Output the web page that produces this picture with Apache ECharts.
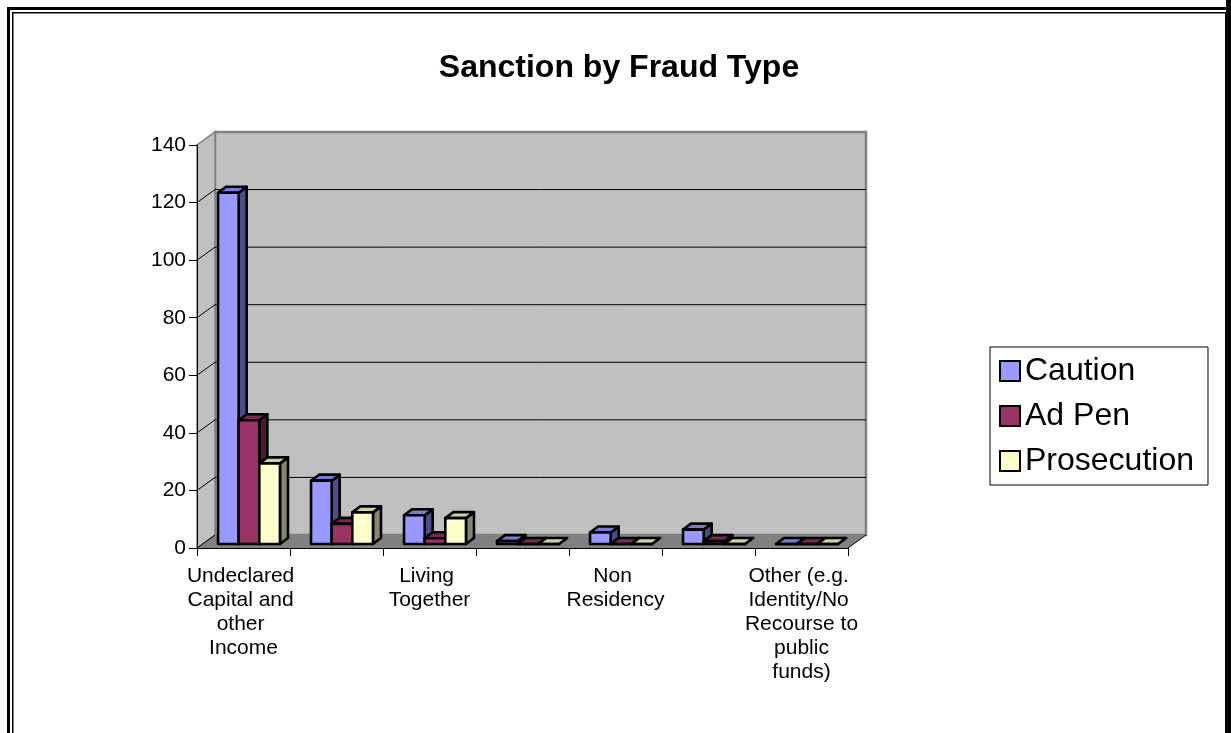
<!DOCTYPE html>
<html>
<head>
<meta charset="utf-8">
<script src="https://cdn.jsdelivr.net/npm/echarts@6/dist/echarts.min.js"></script>
<style>
html,body{margin:0;padding:0;background:#fff;}
#chart{width:1231px;height:733px;}
</style>
</head>
<body>
<div id="chart"></div>
<script>
// ---- data ----
const categories = [
  'Undeclared Capital and other Income',
  '',
  'Living Together',
  '',
  'Non Residency',
  '',
  'Other (e.g. Identity/No Recourse to public funds)'
];
const seriesNames = ['Caution', 'Ad Pen', 'Prosecution'];
const caution = [122, 22, 10, 1, 4, 5, 0];
const adPen = [43, 7, 2, 0, 0, 1, 0];
const prosecution = [28, 11, 9, 0, 0, 0, 0];
const yTicks = [0, 20, 40, 60, 80, 100, 120, 140];

// ---- styles ----
const FONT = "'Liberation Sans', Arial, sans-serif";
const barStyles = [
  { front: '#9999FF', top: '#7B7BD6', side: '#4D4D86' },
  { front: '#993366', top: '#7A2952', side: '#4D1A33' },
  { front: '#FFFFCC', top: '#D0D0A6', side: '#86866B' }
];
const WALL_DX = 18, WALL_DY = -13;   // depth of the 3D box
const BAR_DX = 8, BAR_DY = -6;       // depth of each bar
const BAR_SHIFT_X = 5.5, BAR_SHIFT_Y = -4; // bars sit a bit back from the front plane
const BAR_FRAC = 0.222;

const chart = echarts.init(document.getElementById('chart'));

function backgroundSeries() {
  return {
    type: 'custom',
    name: '__bg',
    z: 1,
    silent: true,
    data: [[0, 0]],
    encode: { x: 0, y: 1 },
    renderItem: function (params, api) {
      const cs = params.coordSys;
      const L = cs.x, T = cs.y, R = cs.x + cs.width, B = cs.y + cs.height;
      const dx = WALL_DX, dy = WALL_DY;
      const children = [];
      // back wall
      children.push({ type: 'rect', shape: { x: L + dx, y: T + dy, width: R - L, height: B - T },
        style: { fill: '#C0C0C0', stroke: '#808080', lineWidth: 2.5 } });
      // left wall
      children.push({ type: 'polygon', shape: { points: [[L, B], [L, T], [L + dx, T + dy], [L + dx, B + dy]] },
        style: { fill: '#C0C0C0', stroke: '#808080', lineWidth: 1.5 } });
      // gridlines
      yTicks.forEach(function (v) {
        if (v === 0 || v === yTicks[yTicks.length - 1]) return;
        const y = api.coord([0, v])[1];
        children.push({ type: 'line', shape: { x1: L + dx, y1: y + dy, x2: R + dx, y2: y + dy },
          style: { stroke: '#000', lineWidth: 1 } });
        children.push({ type: 'line', shape: { x1: L, y1: y, x2: L + dx, y2: y + dy },
          style: { stroke: '#000', lineWidth: 1 } });
      });
      // floor
      children.push({ type: 'polygon', shape: { points: [[L, B], [R, B], [R + dx, B + dy], [L + dx, B + dy]] },
        style: { fill: '#808080' } });
      children.push({ type: 'line', shape: { x1: R, y1: B, x2: R + dx, y2: B + dy },
        style: { stroke: '#000', lineWidth: 1 } });
      children.push({ type: 'line', shape: { x1: L, y1: B, x2: L + dx, y2: B + dy },
        style: { stroke: '#000', lineWidth: 1 } });
      return { type: 'group', children: children };
    }
  };
}

function barSeries(name, values, s) {
  const st = barStyles[s];
  return {
    type: 'custom',
    name: name,
    z: 2,
    data: values.map(function (v, i) { return [i, v]; }),
    encode: { x: 0, y: 1 },
    itemStyle: { color: st.front, borderColor: '#000', borderWidth: 2 },
    renderItem: function (params, api) {
      const i = api.value(0), v = api.value(1);
      const base = api.coord([i, 0]);
      const top = api.coord([i, v]);
      const band = api.size([1, 0])[0];
      const bw = band * BAR_FRAC;
      const x0 = base[0] - 1.5 * bw + s * bw + BAR_SHIFT_X;
      const x1 = x0 + bw;
      const yb = base[1] + BAR_SHIFT_Y;
      const yt = top[1] + BAR_SHIFT_Y;
      const line = { stroke: '#000', lineWidth: 2.6, lineJoin: 'round' };
      return {
        type: 'group',
        children: [
          { type: 'polygon', shape: { points: [[x1, yt], [x1 + BAR_DX, yt + BAR_DY], [x1 + BAR_DX, yb + BAR_DY], [x1, yb]] },
            style: Object.assign({ fill: st.side }, line) },
          { type: 'polygon', shape: { points: [[x0, yt], [x1, yt], [x1 + BAR_DX, yt + BAR_DY], [x0 + BAR_DX, yt + BAR_DY]] },
            style: Object.assign({ fill: st.top }, line) },
          { type: 'rect', shape: { x: x0, y: yt, width: bw, height: yb - yt },
            style: Object.assign({ fill: st.front }, line) }
        ]
      };
    }
  };
}

const option = {
  animation: false,
  backgroundColor: '#fff',
  title: {
    text: 'Sanction by Fraud Type',
    left: 614,
    textAlign: 'center',
    top: 47,
    textStyle: { fontFamily: FONT, fontSize: 32, fontWeight: 'bold', color: '#000' }
  },
  legend: {
    data: seriesNames,
    orient: 'vertical',
    left: 990,
    top: 347,
    padding: [8, 14, 8, 9],
    itemGap: 13,
    itemWidth: 20,
    itemHeight: 20,
    icon: 'rect',
    borderColor: '#000',
    borderWidth: 1,
    backgroundColor: '#fff',
    itemStyle: { borderColor: '#000', borderWidth: 2 },
    textStyle: { fontFamily: FONT, fontSize: 32, lineHeight: 30, color: '#000' }
  },
  grid: { left: 197, top: 145, width: 651, height: 403, containLabel: false },
  xAxis: {
    type: 'category',
    data: categories,
    z: 5,
    axisLine: { show: true, lineStyle: { color: '#000', width: 1 } },
    axisTick: { show: true, interval: 0, length: 8, lineStyle: { color: '#000' } },
    axisLabel: {
      interval: 0,
      margin: 16,
      fontFamily: FONT,
      fontSize: 21,
      lineHeight: 24,
      color: '#000',
      width: 116,
      overflow: 'break',
      align: 'center'
    },
    splitLine: { show: false }
  },
  yAxis: {
    type: 'value',
    min: 0,
    max: 140,
    interval: 20,
    z: 5,
    axisLine: { show: true, lineStyle: { color: '#000', width: 1 } },
    axisTick: { show: true, length: 8, lineStyle: { color: '#000' } },
    axisLabel: { margin: 11, fontFamily: FONT, fontSize: 21, color: '#000' },
    splitLine: { show: false }
  },
  graphic: [
    { type: 'rect', z: 100, shape: { x: 8.5, y: 8.5, width: 1219, height: 800 },
      style: { fill: null, stroke: '#000', lineWidth: 3 } },
    { type: 'rect', z: 100, shape: { x: 12.75, y: 12.75, width: 1213, height: 800 },
      style: { fill: null, stroke: '#000', lineWidth: 1.5 } },
    { type: 'rect', z: 100, shape: { x: 1226, y: 0, width: 5, height: 733 },
      style: { fill: '#000' } }
  ],
  series: [
    backgroundSeries(),
    barSeries(seriesNames[0], caution, 0),
    barSeries(seriesNames[1], adPen, 1),
    barSeries(seriesNames[2], prosecution, 2)
  ]
};
chart.setOption(option);
</script>
</body>
</html>
